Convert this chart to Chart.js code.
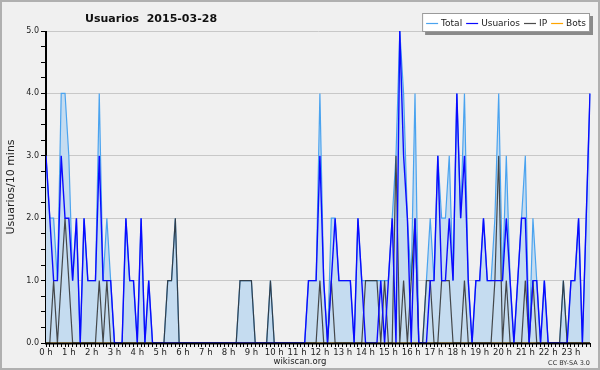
<!DOCTYPE html>
<html><head><meta charset="utf-8">
<script src="https://cdn.jsdelivr.net/npm/chart.js@4.4.1/dist/chart.umd.min.js"></script>
<style>html,body{margin:0;padding:0;background:#f0f0f0;}canvas{display:block;}</style>
</head><body>
<canvas id="c" width="600" height="370"></canvas>
<script>
const chartTitle = 'Usuarios  2015-03-28';
const yAxisTitle = 'Usuarios/10 mins';
const xAxisTitle = 'wikiscan.org';
const creditText = 'CC BY-SA 3.0';
const hourLabels = ['0 h','1 h','2 h','3 h','4 h','5 h','6 h','7 h','8 h','9 h','10 h','11 h',
  '12 h','13 h','14 h','15 h','16 h','17 h','18 h','19 h','20 h','21 h','22 h','23 h'];
const minuteSlots = ['00','10','20','30','40','50'];
const yTickLabels = ['0.0','1.0','2.0','3.0','4.0','5.0'];
const seriesNames = ['Total','Usuarios','IP','Bots'];

const total = [
  3,2,2,1,4,4,3,1,2,0, 2,1,1,1,4,1,2,1,0,0, 0,2,1,1,0,2,0,1,0,0,
  0,0,1,1,2,0,0,0,0,0, 0,0,0,0,0,0,0,0,0,0, 0,1,1,1,1,0,0,0,0,1,
  0,0,0,0,0,0,0,0,0,1, 1,1,4,1,0,2,2,1,1,1, 1,0,2,1,1,1,1,1,1,1,
  1,2,3,5,4,2,1,4,0,0, 1,2,1,3,2,2,3,1,4,2, 4,1,0,1,1,2,1,1,2,4,
  1,3,1,0,1,2,3,0,2,1, 0,1,0,0,0,0,1,0,1,1, 2,0,2,4];
const usuarios = [
  3,2,1,1,3,2,2,1,2,0, 2,1,1,1,3,1,1,1,0,0, 0,2,1,1,0,2,0,1,0,0,
  0,0,0,0,0,0,0,0,0,0, 0,0,0,0,0,0,0,0,0,0, 0,0,0,0,0,0,0,0,0,0,
  0,0,0,0,0,0,0,0,0,1, 1,1,3,1,0,1,2,1,1,1, 1,0,2,1,0,0,0,0,1,0,
  1,2,0,5,3,2,0,2,0,0, 0,1,1,3,1,1,2,1,4,2, 3,1,0,1,1,2,1,1,1,1,
  1,2,1,0,1,2,2,0,1,1, 0,1,0,0,0,0,0,0,1,1, 2,0,2,4];
const ip = [
  0,0,1,0,1,2,1,0,0,0, 0,0,0,0,1,0,1,0,0,0, 0,0,0,0,0,0,0,0,0,0,
  0,0,1,1,2,0,0,0,0,0, 0,0,0,0,0,0,0,0,0,0, 0,1,1,1,1,0,0,0,0,1,
  0,0,0,0,0,0,0,0,0,0, 0,0,1,0,0,1,0,0,0,0, 0,0,0,0,1,1,1,1,0,1,
  0,0,3,0,1,0,1,2,0,0, 1,1,0,0,1,1,1,0,0,0, 1,0,0,0,0,0,0,0,1,3,
  0,1,0,0,0,0,1,0,1,0, 0,0,0,0,0,0,1,0,0,0, 0,0,0,0];
const bots = [
  0,0,0,0,0,0,0,0,0,0, 0,0,0,0,0,0,0,0,0,0, 0,0,0,0,0,0,0,0,0,0,
  0,0,0,0,0,0,0,0,0,0, 0,0,0,0,0,0,0,0,0,0, 0,0,0,0,0,0,0,0,0,0,
  0,0,0,0,0,0,0,0,0,0, 0,0,0,0,0,0,0,0,0,0, 0,0,0,0,0,0,0,0,0,0,
  0,0,0,0,0,0,0,0,0,0, 0,0,0,0,0,0,0,0,0,0, 0,0,0,0,0,0,0,0,0,0,
  0,0,0,0,0,0,0,0,0,0, 0,0,0,0,0,0,0,0,0,0, 0,0,0,0];

const slots = [];
hourLabels.forEach((h, hi) => minuteSlots.forEach(m => slots.push(hi + ':' + m)));

const COL = { bg:'#f0f0f0', total:'#4aa3ef', fill:'#c5dcf0', usu:'#0a0aff', ip:'rgba(45,45,45,0.85)', bots:'#ffa500', grid:'#c8c8c8' };
const FONT = 'DejaVu Sans, Verdana, sans-serif';
const isInt = v => Math.abs(v - Math.round(v)) < 1e-6;

const decor = {
  id: 'decor',
  beforeDraw(chart) {
    const c = chart.ctx;
    c.save();
    c.fillStyle = COL.bg;
    c.fillRect(0, 0, chart.width, chart.height);
    c.restore();
  },
  afterDatasetsDraw(chart) {
    const c = chart.ctx, a = chart.chartArea;
    c.save();
    c.strokeStyle = '#000';
    c.lineWidth = 2;
    c.beginPath(); c.moveTo(a.left - 1, a.bottom + 0.5); c.lineTo(a.right, a.bottom + 0.5); c.stroke();
    c.lineWidth = 1;
    c.beginPath(); c.moveTo(a.left - 0.5, a.top); c.lineTo(a.left - 0.5, a.bottom); c.stroke();
    c.restore();
  },
  afterDraw(chart) {
    const c = chart.ctx, a = chart.chartArea;
    c.save();
    // title
    c.fillStyle = '#111';
    c.font = 'bold 11px ' + FONT;
    c.textBaseline = 'alphabetic';
    c.textAlign = 'left';
    c.fillText(chartTitle, 85, 22);
    // y axis title
    c.save();
    c.translate(11, (a.top + a.bottom) / 2);
    c.rotate(-Math.PI / 2);
    c.font = '11px ' + FONT;
    c.textAlign = 'center';
    c.textBaseline = 'middle';
    c.fillStyle = '#222';
    c.fillText(yAxisTitle, 0, 0);
    c.restore();
    // x axis title
    c.font = '8.5px ' + FONT;
    c.textAlign = 'center';
    c.fillStyle = '#222';
    c.fillText(xAxisTitle, 300, 364);
    // credit
    c.font = '6.5px ' + FONT;
    c.textAlign = 'right';
    c.fillStyle = '#333';
    c.fillText(creditText, 590, 365);
    // legend
    const ds = chart.data.datasets;
    const order = [0, 1, 2, 3];
    c.font = '9px ' + FONT;
    let w = 4;
    order.forEach(i => { w += 12 + 3 + c.measureText(ds[i].label).width + 4; });
    const bx = 590 - w, by = 13, bh = 19;
    c.fillStyle = '#8a8a8a';
    c.fillRect(bx + 3, by + 3, w, bh);
    c.fillStyle = '#fff';
    c.fillRect(bx, by, w, bh);
    c.strokeStyle = '#9a9a9a';
    c.lineWidth = 1;
    c.strokeRect(bx + 0.5, by + 0.5, w - 1, bh - 1);
    let x = bx + 4;
    c.textAlign = 'left';
    c.textBaseline = 'middle';
    order.forEach(i => {
      c.strokeStyle = ds[i].borderColor;
      c.lineWidth = 1.2;
      c.beginPath(); c.moveTo(x, by + 10.5); c.lineTo(x + 12, by + 10.5); c.stroke();
      x += 15;
      c.fillStyle = '#222';
      c.fillText(ds[i].label, x, by + 10.5);
      x += c.measureText(ds[i].label).width + 4;
    });
    // frame
    c.strokeStyle = '#b0b0b0';
    c.lineWidth = 2;
    c.strokeRect(1, 1, chart.width - 2, chart.height - 2);
    c.restore();
  }
};

new Chart(document.getElementById('c'), {
  type: 'line',
  data: {
    labels: slots,
    datasets: [
      { label: seriesNames[0], data: total, borderColor: COL.total, backgroundColor: COL.fill, fill: 'origin', borderWidth: 1.2, order: 3 },
      { label: seriesNames[1], data: usuarios, borderColor: COL.usu, backgroundColor: COL.usu, fill: false, borderWidth: 1.4, order: 0 },
      { label: seriesNames[2], data: ip, borderColor: COL.ip, backgroundColor: COL.ip, fill: false, borderWidth: 1.2, order: 1 },
      { label: seriesNames[3], data: bots, borderColor: COL.bots, backgroundColor: COL.bots, fill: false, borderWidth: 1, order: 2 }
    ]
  },
  options: {
    responsive: false,
    animation: false,
    devicePixelRatio: 1,
    elements: { point: { radius: 0, hoverRadius: 0 }, line: { tension: 0 } },
    layout: { padding: { top: 31, right: 10, left: 0, bottom: 0 } },
    plugins: { legend: { display: false }, tooltip: { enabled: false }, title: { display: false } },
    scales: {
      x: {
        type: 'category',
        offset: false,
        grid: { drawOnChartArea: false, tickColor: '#000', tickLength: 4 },
        border: { color: '#000', width: 1 },
        ticks: {
          autoSkip: false, maxRotation: 0, minRotation: 0, padding: 1,
          color: '#222', font: { family: FONT, size: 8.5 },
          callback: (v, i) => (i % 6 === 0 ? hourLabels[i / 6] : '')
        },
        afterFit: s => { s.height = 27; }
      },
      y: {
        type: 'linear', min: 0, max: 5,
        grid: {
          color: ctx => (ctx.tick && isInt(ctx.tick.value) ? COL.grid : 'rgba(0,0,0,0)'),
          tickColor: '#000', tickLength: 5, lineWidth: 1
        },
        border: { color: '#000', width: 1 },
        ticks: {
          stepSize: 0.25, padding: 2, color: '#222', font: { family: FONT, size: 8 },
          callback: v => (isInt(v) ? yTickLabels[Math.round(v)] : '')
        },
        afterFit: s => { s.width = 46; }
      }
    }
  },
  plugins: [decor]
});
</script>
</body></html>
